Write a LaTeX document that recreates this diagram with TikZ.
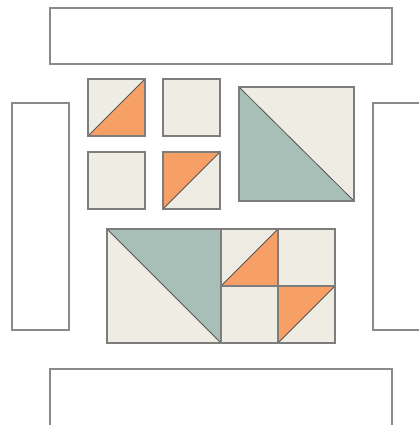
\documentclass[tikz,border=0pt]{standalone}
\usepackage{xcolor}
\usepackage{tikz}
\definecolor{QCream}{HTML}{EFECE3}
\definecolor{QOrange}{HTML}{F7A066}
\definecolor{QSage}{HTML}{A8BFB8}
\definecolor{QEdge}{HTML}{7D7D7D}
\definecolor{QSeam}{HTML}{555555}
\definecolor{QFrame}{HTML}{8A8A8A}
\tikzset{
  frame/.style={draw=QFrame,line width=1.1pt,fill=white},
  patch/.style={draw=QEdge,line width=1.3pt},
  seam/.style={draw=QSeam,line width=0.8pt}
}

\begin{document}
\begin{tikzpicture}[x=1pt,y=-1pt]
\path[use as bounding box] (0,0) rectangle (419,425);
\clip (0,0) rectangle (419,425);
% border strips
\path[frame] (50,8) rectangle (392,64);
\path[frame] (50,369) rectangle (392,440);
\path[frame] (12,103) rectangle (69,330);
\path[frame] (373,103) rectangle (430,330);
% small squares
\fill[QCream] (88,79) rectangle (145,136);
\fill[QOrange] (88,136) -- (145,79) -- (145,136) -- cycle;
\draw[seam] (88,136) -- (145,79);
\path[patch] (88,79) rectangle (145,136);
\path[patch,fill=QCream] (163,79) rectangle (220,136);
\path[patch,fill=QCream] (88,152) rectangle (145,209);
\fill[QCream] (163,152) rectangle (220,209);
\fill[QOrange] (163,209) -- (163,152) -- (220,152) -- cycle;
\draw[seam] (163,209) -- (220,152);
\path[patch] (163,152) rectangle (220,209);
% big square
\fill[QCream] (239,87) rectangle (354,201);
\fill[QSage] (239,87) -- (354,201) -- (239,201) -- cycle;
\draw[seam] (239,87) -- (354,201);
\path[patch] (239,87) rectangle (354,201);
% bottom block
\fill[QCream] (107,229) rectangle (335,343);
\fill[QSage] (107,229) -- (221,229) -- (221,343) -- cycle;
\draw[seam] (107,229) -- (221,343);
\fill[QOrange] (221,286) -- (278,229) -- (278,286) -- cycle;
\draw[seam] (221,286) -- (278,229);
\fill[QOrange] (278,343) -- (278,286) -- (335,286) -- cycle;
\draw[seam] (278,343) -- (335,286);
\draw[patch] (221,229) -- (221,343);
\draw[patch] (278,229) -- (278,343);
\draw[patch] (221,286) -- (335,286);
\path[patch] (107,229) rectangle (335,343);
\end{tikzpicture}
\end{document}
